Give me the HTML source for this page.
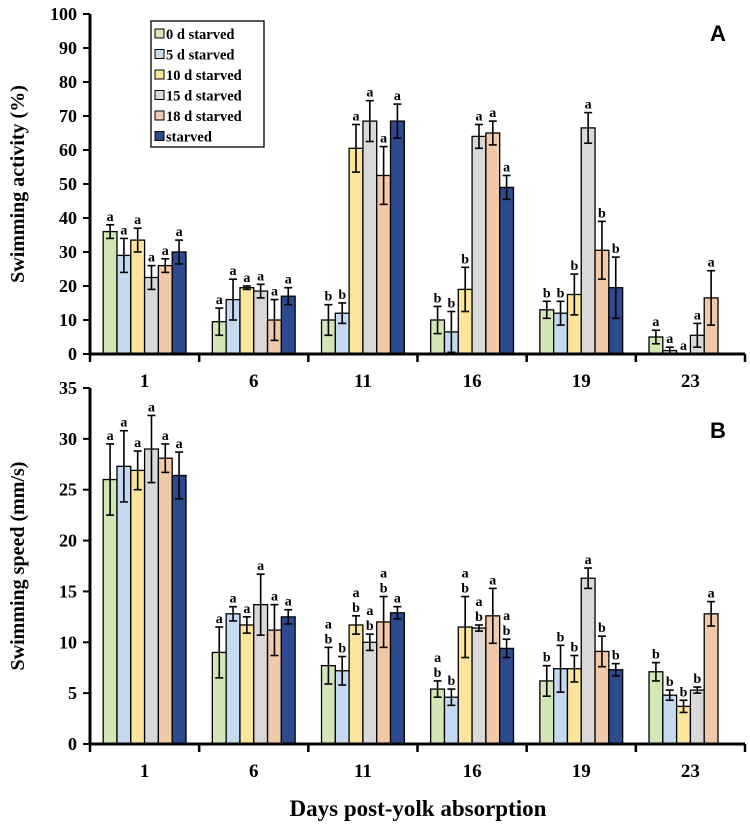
<!DOCTYPE html>
<html><head><meta charset="utf-8">
<style>body{margin:0;background:#fff}svg{display:block}text{font-family:"Liberation Serif",serif;font-weight:bold}</style>
</head><body>
<svg id="c" width="750" height="832"></svg>
<script>
const days=["1","6","11","16","19","23"];
const series=["0 d starved","5 d starved","10 d starved","15 d starved","18 d starved","starved"];
const colors=["#d3e6b5","#c5d9f1","#fbe49b","#d9d9d9","#f2c9a8","#2e4a8f"];
const actVals=[[36,29,33.5,22.5,26,30],[9.5,16,19.5,18.5,10,17],[10,12,60.5,68.5,52.5,68.5],[10,6.5,19,64,65,49],[13,12,17.5,66.5,30.5,19.5],[5,1,0,5.5,16.5,null]];
const actErr=[[2,5,3.5,3.5,2,3.5],[4,6,0.5,2,6,2.5],[4.5,3,7,6,8.5,5],[4,6,6.5,3.5,3.5,3.5],[2.5,3.5,6,4.5,8.5,9],[2,1,0,3.5,8,null]];
const actLab=[["a","a","a","a","a","a"],["a","a","a","a","a","a"],["b","b","a","a","a","a"],["b","b","b","a","a","a"],["b","b","b","a","b","b"],["a","a","a","a","a",""]];
const spdVals=[[26,27.3,26.9,29,28.1,26.4],[9,12.8,11.7,13.7,11.2,12.5],[7.7,7.2,11.7,10,12,12.9],[5.4,4.6,11.5,11.4,12.6,9.4],[6.2,7.4,7.4,16.3,9.1,7.3],[7.1,4.8,3.7,5.3,12.8,null]];
const spdErr=[[3.5,3.5,1.9,3.3,1.4,2.3],[2.5,0.7,0.8,3,2.5,0.7],[1.8,1.4,0.9,0.8,2.5,0.6],[0.8,0.8,3,0.3,2.7,0.9],[1.5,2.3,1.3,1,1.5,0.6],[0.9,0.5,0.6,0.3,1.2,null]];
const spdLab=[["a","a","a","a","a","a"],["a","a","a","a","a","a"],["a|b","b","a|b","a|b","a|b","a"],["a|b","b","a|b","a|b","a","a|b"],["b","b","b","a","b","b"],["b","b","b","b","a",""]];
const actTicks=[0,10,20,30,40,50,60,70,80,90,100];
const spdTicks=[0,5,10,15,20,25,30,35];
const S=document.getElementById('c');const NS="http://www.w3.org/2000/svg";
function mk(t,a,p){const e=document.createElementNS(NS,t);for(const k in a)e.setAttribute(k,a[k]);(p||S).appendChild(e);return e;}
const X0=90,X1=745,GW=(X1-X0)/days.length,BW=13.8;
function gx(g,s){return X0+g*GW+(GW-BW*6)/2+s*BW;}
function panel(p){
  const y=v=>p.y0-(v-p.min)/(p.max-p.min)*(p.y0-p.y1);
  const g=mk('g',{});
  p.vals.forEach((row,gi)=>row.forEach((v,si)=>{
    if(v===null)return;
    const x=gx(gi,si);
    if(v>0){const r=mk('rect',{x:x,y:y(v),width:BW,height:y(0)-y(v),fill:colors[si],stroke:'#000','stroke-width':1.3},g);
    }
    const e=p.err[gi][si];const cx=x+BW/2;
    if(e>0){mk('line',{x1:cx,x2:cx,y1:y(v+e),y2:y(Math.max(0,v-e)),stroke:'#000','stroke-width':1.6},g);
      mk('line',{x1:cx-4,x2:cx+4,y1:y(v+e),y2:y(v+e),stroke:'#000','stroke-width':1.6},g);
      mk('line',{x1:cx-4,x2:cx+4,y1:y(Math.max(0,v-e)),y2:y(Math.max(0,v-e)),stroke:'#000','stroke-width':1.6},g);}
    const lab=p.lab[gi][si];if(!lab)return;
    const parts=lab.split('|');const top=y(v+e)-4;
    parts.forEach((t,i)=>{const tx=mk('text',{x:cx,y:top-(parts.length-1-i)*15,'text-anchor':'middle','font-size':14},g);tx.textContent=t;
      });
  }));
  mk('line',{x1:X0,x2:X0,y1:p.y1,y2:y(0)+1,stroke:'#000','stroke-width':3},g);
  mk('line',{x1:X0-1,x2:X1,y1:y(0),y2:y(0),stroke:'#000','stroke-width':3},g);
  p.ticks.forEach(t=>{mk('line',{x1:X0-7,x2:X0,y1:y(t),y2:y(t),stroke:'#000','stroke-width':2},g);
    const tx=mk('text',{x:77,y:y(t)+6,'text-anchor':'end','font-size':18},g);tx.textContent=t;
    });
  for(let i=0;i<=days.length;i++)mk('line',{x1:X0+i*GW,x2:X0+i*GW,y1:y(0),y2:y(0)+8,stroke:'#000','stroke-width':2.5},g);
  days.forEach((d,i)=>{const tx=mk('text',{x:X0+(i+.5)*GW,y:y(0)+33,'text-anchor':'middle','font-size':19},g);tx.textContent=d;
    });
  const yt=mk('text',{x:0,y:0,'text-anchor':'middle','font-size':20,transform:`translate(24,${(p.y1+y(0))/2}) rotate(-90)`},g);yt.textContent=p.title;
  
  const pl=mk('text',{x:718,y:p.y1+p.ly,'text-anchor':'middle','font-size':22,style:'font-family:"Liberation Sans",sans-serif'},g);pl.textContent=p.key;
  
}
panel({name:'panel-a',key:'A',vals:actVals,err:actErr,lab:actLab,ticks:actTicks,min:0,max:100,y0:354,y1:14,title:'Swimming activity (%)',ly:27});
panel({name:'panel-b',key:'B',vals:spdVals,err:spdErr,lab:spdLab,ticks:spdTicks,min:0,max:35,y0:744,y1:388,title:'Swimming speed (mm/s)',ly:50});
const lg=mk('g',{});
mk('rect',{x:151,y:21,width:113,height:126,fill:'#fff',stroke:'#000','stroke-width':1.3},lg);
series.forEach((s,i)=>{const yy=25+i*20.5;
  const r=mk('rect',{x:155,y:yy+4,width:9,height:9,fill:colors[i],stroke:'#000','stroke-width':1},lg);
  
  const t=mk('text',{x:166,y:yy+14,'font-size':14.5},lg);t.textContent=s;
  });
const xt=mk('text',{x:418,y:816,'text-anchor':'middle','font-size':23});xt.textContent='Days post-yolk absorption';

</script>
</body></html>
